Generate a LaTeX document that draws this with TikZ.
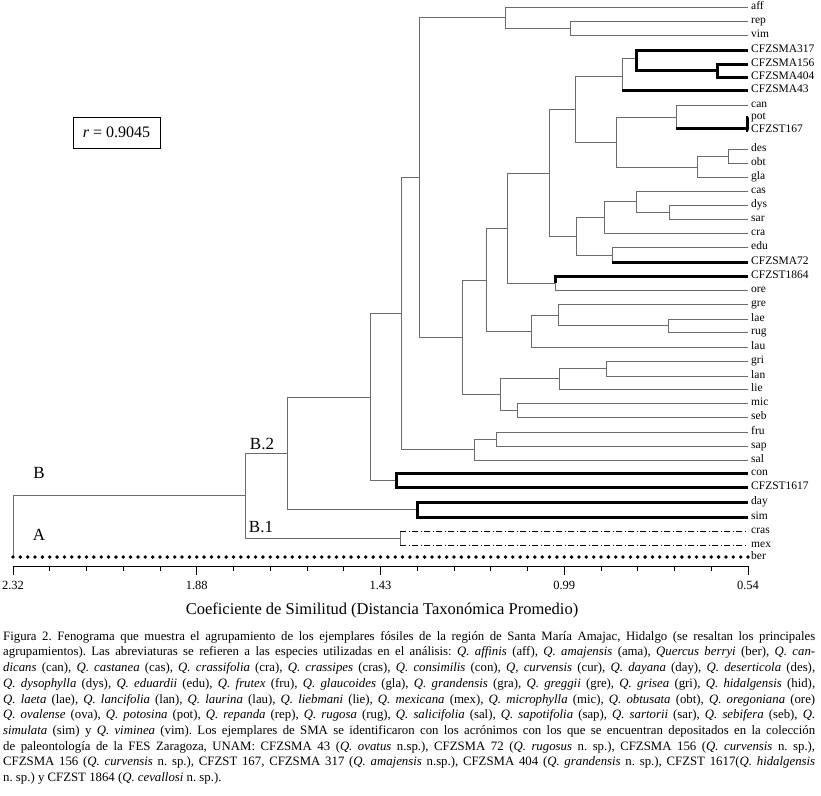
\documentclass[tikz,border=0pt]{standalone}
\usepackage{fontspec}
\setmainfont{Liberation Serif}
\usepackage{xcolor}
\usetikzlibrary{calc}
\definecolor{branchgray}{gray}{0.42}
\newcommand{\leafsize}{\fontsize{11.5}{12}\selectfont}
\frenchspacing

\tikzset{
  branch/.style={draw=branchgray, line width=0.9pt},
  hl/.style={draw=black, line width=3pt},
  dashdot/.style={draw=black, line width=0.8pt, dash pattern=on 6pt off 2.5pt on 1pt off 2.5pt},
  berdots/.style={draw=black, line width=3.8pt, line cap=round, dash pattern=on 0pt off 7.35pt},
  leaf/.style={anchor=west, inner sep=3pt, text height=8pt, text depth=2.5pt, font=\leafsize},
  grp/.style={inner sep=0pt, font=\fontsize{17}{18}\selectfont},
  ticklab/.style={inner sep=0pt, font=\fontsize{12.5}{13}\selectfont},
}

\begin{document}
\begin{tikzpicture}[x=1pt,y=-1pt]
\useasboundingbox (0,0) rectangle (821,795);

%leaves
\foreach \n/\y/\t in {aff/7/aff, rep/21/rep, vim/35/vim, sma317/50/CFZSMA317,
  sma156/64/CFZSMA156, sma404/77/CFZSMA404, sma43/90/CFZSMA43, can/105/can,
  pot/117/pot, st167/130/CFZST167, des/149/des, obt/163/obt, gla/177/gla,
  cas/191/cas, dys/205/dys, sar/219/sar, cra/233/cra, edu/247/edu,
  sma72/262/CFZSMA72, st1864/276/CFZST1864, ore/290/ore, gre/304/gre,
  lae/319/lae, rug/332/rug, lau/347/lau, gri/361/gri, lan/376/lan, lie/389/lie,
  mic/403/mic, seb/417/seb, fru/432/fru, sap/446/sap, sal/460/sal, con/473/con,
  st1617/487/CFZST1617, day/502/day, sim/517/sim, cras/531/cras, mex/545/mex,
  ber/557/ber}
  \node[leaf] (\n) at (748,\y) {\t};

%joins
\coordinate (nRoot) at (13,557);
\coordinate (nB) at (245,495);
\coordinate (nB2) at (287,453);
\coordinate (nB1) at (400,538);
\coordinate (nDS) at (417,509);
\coordinate (nP) at (370,397);
\coordinate (nCC) at (396,480);
\coordinate (nQ) at (401,313);
\coordinate (nFS) at (474,449);
\coordinate (nFSa) at (496,439);
\coordinate (nR) at (419,177);
\coordinate (nAff) at (505,17);
\coordinate (nRV) at (570,28);
\coordinate (nT) at (462,337);
\coordinate (nU) at (486,280);
\coordinate (nV) at (500,394);
\coordinate (nW) at (507,228);
\coordinate (nO) at (555,283);
\coordinate (nX) at (549,173);
\coordinate (nY) at (575,109);
\coordinate (nZ) at (576,236);
\coordinate (nCF) at (622,76);
\coordinate (nCF2) at (636,58);
\coordinate (nCF3) at (717,70);
\coordinate (nK) at (616,142);
\coordinate (nCP) at (676,117);
\coordinate (nPC) at (747,128);
\coordinate (nDG) at (697,167);
\coordinate (nDO) at (728,156);
\coordinate (nCD) at (604,217);
\coordinate (nCS) at (636,201);
\coordinate (nDyS) at (669,212);
\coordinate (nEC) at (612,255);
\coordinate (nL) at (531,331);
\coordinate (nG) at (558,315);
\coordinate (nLR) at (668,325);
\coordinate (nGL) at (559,378);
\coordinate (nGr) at (606,368);
\coordinate (nMS) at (517,410);

%branches
\foreach \a/\b in {nRoot/nB, nB/nB2, nB/nB1, nB2/nP, nB2/nDS, nP/nQ, nP/nCC,
  nQ/nR, nQ/nFS, nFS/nFSa, nFS/sal, nFSa/fru, nFSa/sap, nR/nAff, nR/nT,
  nAff/aff, nAff/nRV, nRV/rep, nRV/vim, nT/nU, nT/nV, nU/nW, nU/nL, nW/nX,
  nW/nO, nO/st1864, nO/ore, nX/nY, nX/nZ, nY/nCF, nY/nK, nCF/nCF2, nCF/sma43,
  nCF2/sma317, nCF2/nCF3, nCF3/sma156, nCF3/sma404, nK/nCP, nK/nDG, nCP/can,
  nCP/nPC, nDG/nDO, nDG/gla, nDO/des, nDO/obt, nZ/nCD, nZ/nEC, nCD/nCS,
  nCD/cra, nCS/cas, nCS/nDyS, nDyS/dys, nDyS/sar, nEC/edu, nEC/sma72, nL/nG,
  nL/lau, nG/gre, nG/nLR, nLR/lae, nLR/rug, nV/nGL, nV/nMS, nGL/nGr, nGL/lie,
  nGr/gri, nGr/lan, nMS/mic, nMS/seb}
  \draw[branch] (\a) |- (\b);

%highlighted groups
\foreach \a/\b in {nCF2/sma317, nCF2/nCF3, nCF3/sma156, nCF3/sma404,
  nPC/pot, nPC/st167, nO/st1864, nCC/con, nCC/st1617, nDS/day, nDS/sim}
  \draw[hl] (\a) |- (\b);
\foreach \a/\b in {nCF/sma43, nCP/nPC, nEC/sma72}
  \draw[hl] (\a |- \b) -- (\b);

%B.1 and A
\draw[branch] (nB1 |- cras.west) -- (nB1 |- mex.west);
\draw[dashdot] (nB1 |- cras.west) -- (cras);
\draw[dashdot] (nB1 |- mex.west) -- (mex);
\draw[berdots] (nRoot) -- (ber);

%group labels
\node[grp] (lB) at (39,473) {B};
\node[grp] (lA) at (39,535) {A};
\node[grp] (lB2) at (262,444) {B.2};
\node[grp] (lB1) at (261,527) {B.1};

%r box
\node[draw, line width=0.8pt, minimum width=87pt, minimum height=31pt,
  font=\fontsize{16}{17}\selectfont] (rbox) at (116.5,132.5) {\textit{r} = 0.9045};

%axis
\coordinate (ax0) at (13,566);
\coordinate (ax1) at (748,566);
\draw[line width=0.8pt] (ax0) -- (ax1);
\foreach \i in {1,...,19}
  \draw[line width=0.8pt] ($(ax0)+(\i*36.75,0)$) -- ++(0,5);
\foreach \i/\v in {0/2.32, 5/1.88, 10/1.43, 15/0.99, 20/0.54}{
  \draw[line width=0.8pt] ($(ax0)+(\i*36.75,0)$) -- ++(0,9);
  \node[ticklab] (t\i) at ($(ax0)+(\i*36.75,19)$) {\v};
}
\node[inner sep=0pt, font=\fontsize{16.5}{17}\selectfont] (axtitle) at (382,610)
  {Coeficiente de Similitud (Distancia Taxonómica Promedio)};

%caption
\node[anchor=north west, inner sep=0pt, text width=812pt, align=justify,
  font=\fontsize{12.8}{15.7}\selectfont] (cap) at (3,631) {Figura 2. Fenograma que muestra el agrupamiento de los ejemplares fósiles de la región de Santa María Amajac, Hidalgo (se resaltan los principales\linebreak
agrupamientos). Las abreviaturas se refieren a las especies utilizadas en el análisis: \textit{Q. affinis} (aff), \textit{Q. amajensis} (ama), \textit{Quercus berryi} (ber), \textit{Q. can-}\linebreak
\textit{dicans} (can), \textit{Q. castanea} (cas), \textit{Q. crassifolia} (cra), \textit{Q. crassipes} (cras), \textit{Q. consimilis} (con), \textit{Q, curvensis} (cur), \textit{Q. dayana} (day), \textit{Q. deserticola} (des),\linebreak
\textit{Q. dysophylla} (dys), \textit{Q. eduardii} (edu), \textit{Q. frutex} (fru), \textit{Q. glaucoides} (gla), \textit{Q. grandensis} (gra), \textit{Q. greggii} (gre), \textit{Q. grisea} (gri), \textit{Q. hidalgensis} (hid),\linebreak
\textit{Q. laeta} (lae), \textit{Q. lancifolia} (lan), \textit{Q. laurina} (lau), \textit{Q. liebmani} (lie), \textit{Q. mexicana} (mex), \textit{Q. microphylla} (mic), \textit{Q. obtusata} (obt), \textit{Q. oregoniana} (ore)\linebreak
\textit{Q. ovalense} (ova), \textit{Q. potosina} (pot), \textit{Q. repanda} (rep), \textit{Q. rugosa} (rug), \textit{Q. salicifolia} (sal), \textit{Q. sapotifolia} (sap), \textit{Q. sartorii} (sar), \textit{Q. sebifera} (seb), \textit{Q.}\linebreak
\textit{simulata} (sim) y \textit{Q. viminea} (vim). Los ejemplares de SMA se identificaron con los acrónimos con los que se encuentran depositados en la colección\linebreak
de paleontología de la FES Zaragoza, UNAM: CFZSMA 43 (\textit{Q. ovatus} n.sp.), CFZSMA 72 (\textit{Q. rugosus} n. sp.), CFZSMA 156 (\textit{Q. curvensis} n. sp.),\linebreak
CFZSMA 156 (\textit{Q. curvensis} n. sp.), CFZST 167, CFZSMA 317 (\textit{Q. amajensis} n.sp.), CFZSMA 404 (\textit{Q. grandensis} n. sp.), CFZST 1617(\textit{Q. hidalgensis}\linebreak
n. sp.) y CFZST 1864 (\textit{Q. cevallosi} n. sp.).};
\end{tikzpicture}
\end{document}
